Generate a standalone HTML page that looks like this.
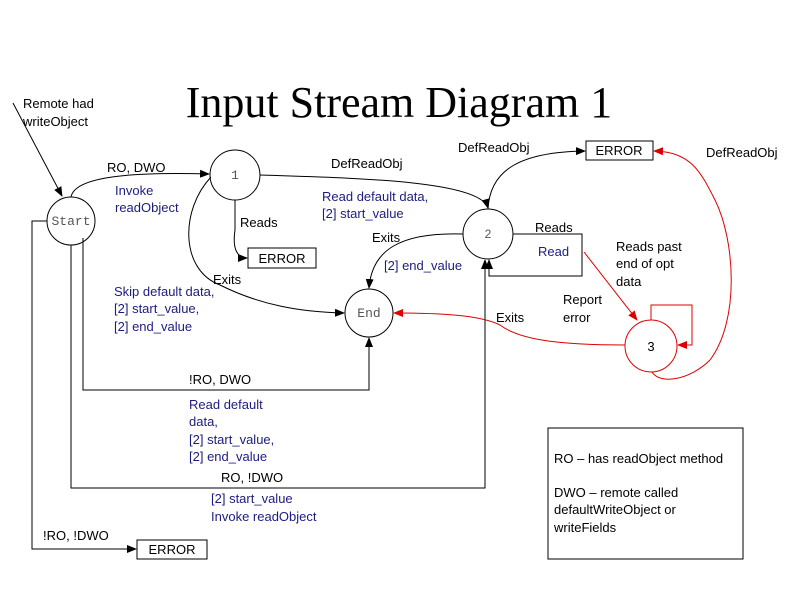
<!DOCTYPE html>
<html><head><meta charset="utf-8"><style>
body{margin:0;background:#fff}
svg{display:block}
text{font-family:"Liberation Sans",sans-serif;font-size:13px;fill:#000}
.b{fill:#1c1c80}
.m{font-family:"Liberation Mono",monospace;fill:#555}
</style></head><body>
<svg width="800" height="600" viewBox="0 0 800 600">
<defs>
<marker id="a" markerWidth="10" markerHeight="8" refX="9" refY="4" orient="auto" markerUnits="userSpaceOnUse"><path d="M0,0L10,4L0,8z" fill="#000"/></marker>
<marker id="r" markerWidth="10" markerHeight="8" refX="9" refY="4" orient="auto" markerUnits="userSpaceOnUse"><path d="M0,0L10,4L0,8z" fill="#d00"/></marker>
</defs>
<text x="399" y="117" text-anchor="middle" style="font-family:'Liberation Serif',serif;font-size:44px">Input Stream Diagram 1</text>
<g fill="none" stroke="#000" stroke-width="1">
<circle cx="71" cy="221" r="24"/>
<circle cx="235" cy="175" r="25"/>
<circle cx="488" cy="234" r="25"/>
<circle cx="369" cy="313" r="24"/>
<rect x="586" y="141" width="67" height="19"/>
<rect x="248" y="248" width="68" height="20"/>
<rect x="137" y="540" width="70" height="19"/>
<rect x="548" y="428" width="195" height="131"/>
<path d="M13,103 L62,196" marker-end="url(#a)"/>
<path d="M71,197 C75,175 140,172 209,174" marker-end="url(#a)"/>
<path d="M260,175 C350,178 480,180 488,208" marker-end="url(#a)"/>
<path d="M235,200 L235,230 C232,250 238,258 247,258" marker-end="url(#a)"/>
<path d="M211,177 C180,210 180,270 220,285 C260,305 300,312 344,313" marker-end="url(#a)"/>
<path d="M463,234 C400,232 372,250 369,288" marker-end="url(#a)"/>
<path d="M488,209 C490,170 520,152 585,151" marker-end="url(#a)"/>
<path d="M513,234 L582,234 L582,276 L489,276 L489,260" marker-end="url(#a)"/>
<path d="M83,238 L83,390 L369,390 L369,338" marker-end="url(#a)"/>
<path d="M71,245 L71,488 L485,488 L485,260" marker-end="url(#a)"/>
<path d="M47,221 L32,221 L32,549 L136,549" marker-end="url(#a)"/>
</g>
<g fill="none" stroke="#d00" stroke-width="1">
<circle cx="651" cy="346" r="26"/>
<path d="M584,252 L637,320" marker-end="url(#r)"/>
<path d="M625,345 C560,345 520,340 500,325 C480,315 440,313 394,313" marker-end="url(#r)"/>
<path d="M651,320 L651,305 L692,305 L692,345 L678,345" marker-end="url(#r)"/>
<path d="M652,372 C660,385 690,380 710,360 C740,320 735,240 715,200 C700,170 690,152 654,151" marker-end="url(#r)"/>
</g>
<text class="m" x="71" y="225" text-anchor="middle">Start</text>
<text class="m" x="235" y="179" text-anchor="middle">1</text>
<text x="488" y="238" text-anchor="middle" style="fill:#555;font-size:12px">2</text>
<text class="m" x="369" y="317" text-anchor="middle">End</text>
<text x="651" y="351" text-anchor="middle">3</text>
<text x="619" y="155" text-anchor="middle">ERROR</text>
<text x="282" y="263" text-anchor="middle">ERROR</text>
<text x="172" y="554" text-anchor="middle">ERROR</text>
<text x="23" y="108">Remote had</text>
<text x="23" y="126">writeObject</text>
<text x="107" y="172">RO, DWO</text>
<text class="b" x="115" y="195">Invoke</text>
<text class="b" x="115" y="212">readObject</text>
<text x="331" y="168">DefReadObj</text>
<text class="b" x="322" y="201">Read default data,</text>
<text class="b" x="322" y="218">[2] start_value</text>
<text x="240" y="227">Reads</text>
<text x="213" y="284">Exits</text>
<text class="b" x="114" y="296">Skip default data,</text>
<text class="b" x="114" y="313">[2] start_value,</text>
<text class="b" x="114" y="331">[2] end_value</text>
<text x="372" y="242">Exits</text>
<text class="b" x="384" y="270">[2] end_value</text>
<text x="458" y="152">DefReadObj</text>
<text x="706" y="157">DefReadObj</text>
<text x="535" y="232">Reads</text>
<text class="b" x="538" y="256">Read</text>
<text x="616" y="251">Reads past</text>
<text x="616" y="268">end of opt</text>
<text x="616" y="286">data</text>
<text x="563" y="304">Report</text>
<text x="563" y="322">error</text>
<text x="496" y="322">Exits</text>
<text x="189" y="384">!RO, DWO</text>
<text class="b" x="189" y="409">Read default</text>
<text class="b" x="189" y="426">data,</text>
<text class="b" x="189" y="444">[2] start_value,</text>
<text class="b" x="189" y="461">[2] end_value</text>
<text x="221" y="482">RO, !DWO</text>
<text class="b" x="211" y="503">[2] start_value</text>
<text class="b" x="211" y="521">Invoke readObject</text>
<text x="43" y="540">!RO, !DWO</text>
<text x="554" y="463">RO – has readObject method</text>
<text x="554" y="497">DWO – remote called</text>
<text x="554" y="514">defaultWriteObject or</text>
<text x="554" y="532">writeFields</text>
</svg>
</body></html>
